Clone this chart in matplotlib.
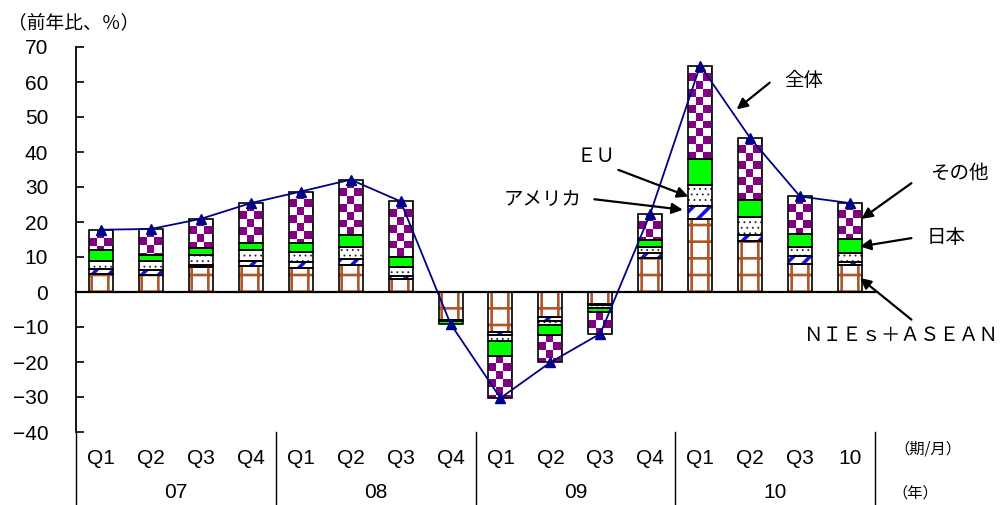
import numpy as np
import matplotlib
matplotlib.use("Agg")
import matplotlib.pyplot as plt
from matplotlib import font_manager
from matplotlib.colors import ListedColormap
from matplotlib.transforms import blended_transform_factory

# ---- data -------------------------------------------------------------
periods = ['Q1', 'Q2', 'Q3', 'Q4', 'Q1', 'Q2', 'Q3', 'Q4',
           'Q1', 'Q2', 'Q3', 'Q4', 'Q1', 'Q2', 'Q3', '10']
years = ['07', '08', '09', '10']
periods_per_year = [4, 4, 4, 4]

# contributions by region (% points, y/y)
nies_asean = [5.2, 4.9, 7.1, 7.3, 6.9, 7.6, 3.8, -7.9, -11.3, -7.1, -3.3, 9.7, 20.9, 14.5, 8.1, 7.8]
america    = [1.5, 1.5, 0.6, 1.6, 1.7, 1.9, 0.9, -0.1, -1.1, -1.3, -0.5, 1.4, 3.8, 1.9, 2.1, 0.9]
eu         = [2.3, 2.4, 2.8, 3.0, 2.8, 3.4, 2.4, -0.2, -1.5, -0.9, -0.8, 1.9, 6.0, 5.0, 2.8, 2.4]
japan      = [3.1, 1.9, 2.0, 2.1, 2.6, 3.5, 2.9, -0.9, -4.3, -2.9, -1.1, 1.9, 7.3, 4.8, 3.6, 4.0]
others     = [5.7, 7.3, 8.4, 11.4, 14.7, 15.7, 15.9, 0.0, -12.1, -7.9, -6.2, 7.5, 26.7, 17.8, 10.7, 10.3]

series_names = ['ＮＩＥｓ＋ＡＳＥＡＮ', 'アメリカ', 'ＥＵ', '日本', 'その他']
total_name = '全体'
y_unit = '（前年比、％）'
period_unit = '（期/月）'
year_unit = '（年）'

y_ticks = [70, 60, 50, 40, 30, 20, 10, 0, -10, -20, -30, -40]

# ---- style ------------------------------------------------------------
names_available = {f.name for f in font_manager.fontManager.ttflist}
num_font = 'Liberation Sans Narrow' if 'Liberation Sans Narrow' in names_available else 'Liberation Sans'
cjk = ['Noto Sans CJK JP', 'DejaVu Sans']
plt.rcParams['font.family'] = cjk
plt.rcParams['axes.unicode_minus'] = True

BROWN = '#B0562A'
BLUE = '#1010F0'
GREEN = '#00FF00'
PURPLE = '#820082'
NAVY = '#000088'
EDGE_LW = 1.2
BAR_W = 0.48
NUM_SIZE = 15

fig = plt.figure(figsize=(10.0, 5.05), dpi=100)
ax = fig.add_axes([0.076, 1 - 432 / 505, 0.799, (432 - 47) / 505])

x = np.arange(len(periods))
data = [np.array(v, dtype=float) for v in (nies_asean, america, eu, japan, others)]
total = np.sum(data, axis=0)

# sign-aware stacking
pos_base = np.zeros(len(x))
neg_base = np.zeros(len(x))
bottoms = []
for vals in data:
    b = np.where(vals >= 0, pos_base, neg_base)
    bottoms.append(b)
    pos_base = pos_base + np.clip(vals, 0, None)
    neg_base = neg_base + np.clip(vals, None, 0)


def hatched(vals, bottom, hatch, color, hlw):
    with plt.rc_context({'hatch.linewidth': hlw}):
        bars = ax.bar(x, vals, BAR_W, bottom=bottom, color='white',
                      edgecolor=color, hatch=hatch, linewidth=0, zorder=2)
    for p in bars:
        if hasattr(p, 'set_hatch_linewidth'):
            p.set_hatch_linewidth(hlw)
    return bars


# NIEs+ASEAN: brown grid
hatched(data[0], bottoms[0], '+', BROWN, 1.9)
# America: wide blue diagonal stripes
hatched(data[1], bottoms[1], '//', BLUE, 2.6)
# EU: small dots
hatched(data[2], bottoms[2], '...', '#222222', 0.6)
# Japan: solid green
ax.bar(x, data[3], BAR_W, bottom=bottoms[3], color=GREEN, linewidth=0, zorder=2)
# Others: purple checkerboard clipped to each bar
other_bars = ax.bar(x, data[4], BAR_W, bottom=bottoms[4], color='white', linewidth=0, zorder=2)
checker_cmap = ListedColormap(['white', PURPLE])
cell_x, cell_y = 0.155, 2.25
for p in other_bars:
    h = p.get_height()
    if abs(h) < 1e-9:
        continue
    x0, w = p.get_x(), p.get_width()
    y_lo, y_hi = sorted([p.get_y(), p.get_y() + h])
    nx = 96
    ny = max(4, int(abs(h) / cell_y * 24))
    xs = (np.arange(nx) + 0.5) / nx * w
    ys = (np.arange(ny) + 0.5) / ny * (y_hi - y_lo)
    grid = (np.floor(xs / cell_x)[None, :] + np.floor(ys / cell_y)[:, None]) % 2
    im = ax.imshow(grid, extent=(x0, x0 + w, y_lo, y_hi), origin='upper',
                   cmap=checker_cmap, vmin=0, vmax=1, interpolation='nearest',
                   aspect='auto', zorder=2.5)
    im.set_clip_path(p)

# black outlines on every segment
for vals, b in zip(data, bottoms):
    ax.bar(x, vals, BAR_W, bottom=b, fill=False, edgecolor='black',
           linewidth=EDGE_LW, zorder=3)

# total line
ax.plot(x, total, color=NAVY, lw=1.3, marker='^', ms=7, zorder=4)

# ---- axes -------------------------------------------------------------
ax.set_xlim(-0.5, len(x) - 0.5)
ax.set_ylim(-40, 70)
ax.set_yticks(y_ticks)
ax.set_yticklabels([str(t).replace('-', '\u2212') for t in y_ticks],
                   fontfamily=num_font, fontsize=NUM_SIZE)
ax.tick_params(axis='y', direction='in', length=6, width=1.2, pad=20)
ax.set_xticks([])
for s in ('top', 'right'):
    ax.spines[s].set_visible(False)
ax.spines['left'].set_linewidth(1.3)
ax.spines['bottom'].set_position(('data', 0))
ax.spines['bottom'].set_linewidth(1.6)
ax.spines['bottom'].set_zorder(5)

trans = blended_transform_factory(ax.transData, ax.transAxes)
for i, lab in enumerate(periods):
    ax.text(i, -0.068, lab, transform=trans, ha='center', va='center',
            fontfamily=num_font, fontsize=NUM_SIZE)
start = 0
for yr, n in zip(years, periods_per_year):
    ax.text(start + (n - 1) / 2, -0.158, yr, transform=trans, ha='center',
            va='center', fontfamily=num_font, fontsize=NUM_SIZE)
    start += n
edges = np.concatenate([[0], np.cumsum(periods_per_year)]) - 0.5
for e in edges:
    ax.plot([e, e], [0, -0.25], transform=trans, color='black', lw=1.0,
            clip_on=False)

ax.text(16.55, -0.045, period_unit, transform=trans, ha='center', va='center',
        fontsize=11)
ax.text(16.3, -0.158, year_unit, transform=trans, ha='center', va='center',
        fontsize=11)
fig.text(0.008, 0.955, y_unit, ha='left', va='center', fontsize=13.5)

# ---- callouts ---------------------------------------------------------
arrow = dict(arrowstyle='-|>', color='black', lw=1.6, mutation_scale=16,
             shrinkA=0, shrinkB=0)
callouts = [
    (total_name, (14.07, 60.4), (13.39, 59.8), (12.73, 52.2)),
    (series_names[2], (9.92, 38.7), (10.36, 34.9), (11.76, 27.3)),
    (series_names[1], (8.84, 26.4), (9.88, 26.5), (11.65, 23.5)),
    (series_names[4], (17.18, 33.8), (16.23, 31.1), (15.23, 20.9)),
    (series_names[3], (16.93, 15.5), (16.23, 15.4), (15.20, 13.0)),
    (series_names[0], (16.03, -12.5), (16.23, -7.9), (15.20, 4.0)),
]
for label, tpos, start_pt, tip in callouts:
    ax.annotate('', xy=tip, xytext=start_pt, arrowprops=arrow, zorder=6,
                annotation_clip=False)
    ax.text(tpos[0], tpos[1], label, ha='center', va='center', fontsize=14,
            clip_on=False)

fig.savefig('out.png', dpi=100)
